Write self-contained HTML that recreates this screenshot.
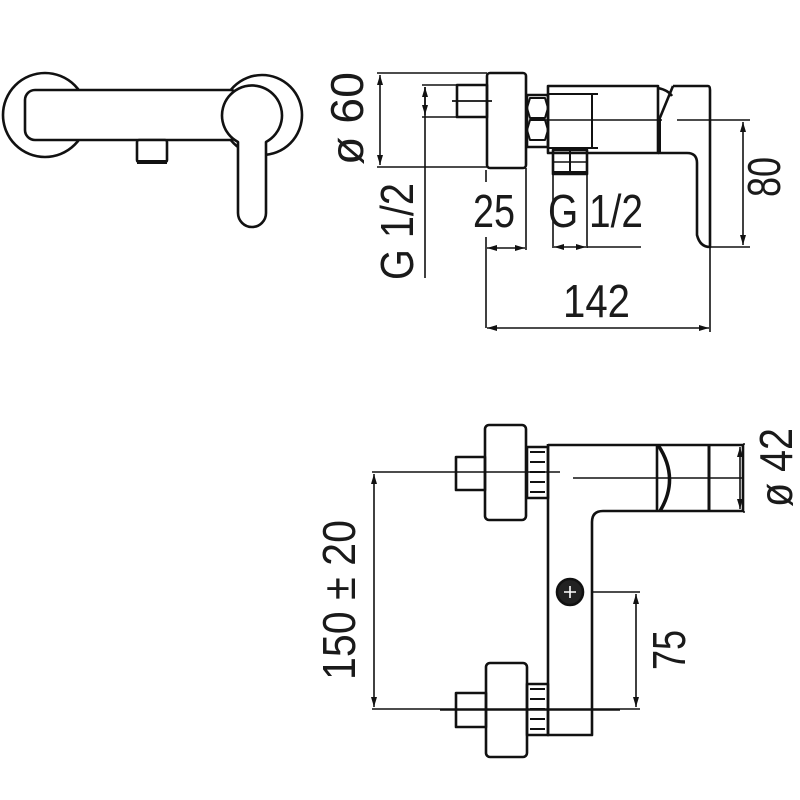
<!DOCTYPE html>
<html><head><meta charset="utf-8"><style>
html,body{margin:0;padding:0;background:#fff;}
svg{display:block}
text{font-family:"Liberation Sans",sans-serif;font-size:46px;fill:#1a1a1a}
</style></head><body>
<svg width="800" height="800" viewBox="0 0 800 800" xmlns="http://www.w3.org/2000/svg">
<defs>
<marker id="a" markerWidth="10" markerHeight="6" refX="10" refY="3" orient="auto-start-reverse" markerUnits="userSpaceOnUse">
<path d="M0 0 L10 3 L0 6 Z" fill="#111"/>
</marker>
</defs>
<g fill="none" stroke="#111" stroke-width="2.6" stroke-linejoin="round">
<!-- Top-left front view -->
<circle cx="45" cy="115" r="42"/>
<circle cx="262" cy="115" r="40"/>
<rect x="25" y="90" width="215" height="50" rx="10" fill="#fff"/>
<rect x="137" y="140" width="30" height="22" rx="2" fill="#fff"/>
<line x1="137" y1="162" x2="167" y2="162" stroke-width="4"/>
<path d="M238 142 A30 30 0 1 1 266 142 L266 213 A14 14 0 0 1 238 213 Z" fill="#fff"/>

<!-- Top-right side view -->
<rect x="487" y="73" width="39" height="95" rx="3" fill="#fff"/>
<rect x="457" y="85" width="30" height="32"/>
<line x1="452" y1="101" x2="492" y2="101" stroke-width="1.8"/>
<rect x="527" y="95" width="21" height="52"/>
<path d="M530 98 h15 l3 10 l-3 10 h-15 l-3 -10 z M530 120 h15 l3 10 l-3 10 h-15 l-3 -10 z" stroke-width="2"/>
<rect x="548" y="86" width="110" height="67"/>
<path d="M592 93 V148 M548 94 H598 M548 148 H598" stroke-width="2"/>
<rect x="553" y="150" width="34" height="24"/>
<line x1="553" y1="173" x2="587" y2="173" stroke-width="4"/>
<line x1="570" y1="150" x2="570" y2="175" stroke-width="2"/>
<line x1="553" y1="162" x2="587" y2="162" stroke-width="1.5"/>
<path d="M658 88 Q668 90 672 96"/>
<path d="M673 86 H708 Q710 86 710 90 V247 Q700 247 697 235 V163 Q697 153 687 153 H658"/>
<line x1="673" y1="86" x2="659" y2="120"/>
<line x1="659" y1="118" x2="659" y2="153" stroke-width="4"/>
<!-- dims top -->
<g stroke-width="1.6">
<path d="M377 73 H487 M377 167 H487"/>
<line x1="380" y1="75" x2="380" y2="165" marker-start="url(#a)" marker-end="url(#a)"/>
<path d="M422 85 H457 M422 117 H460 M425 87 V278"/>
<line x1="425" y1="87" x2="425" y2="115" marker-start="url(#a)" marker-end="url(#a)"/>
<path d="M543 120 H662 M677 120 H750 M710 247 H750"/>
<line x1="743" y1="122" x2="743" y2="245" marker-start="url(#a)" marker-end="url(#a)"/>
<path d="M486 170 V182 M486 237 V328 M526 168 V250"/>
<line x1="487" y1="248" x2="525" y2="248" marker-start="url(#a)" marker-end="url(#a)"/>
<path d="M553 175 V248 M587 175 V248 M587 247 H641"/>
<line x1="554" y1="247" x2="586" y2="247" marker-start="url(#a)" marker-end="url(#a)"/>
<path d="M710 247 V332"/>
<line x1="487" y1="328" x2="709" y2="328" marker-start="url(#a)" marker-end="url(#a)"/>
</g>

<!-- Bottom view -->
<rect x="485" y="425" width="41" height="95" rx="4" fill="#fff"/>
<rect x="456" y="457" width="29" height="33"/>
<rect x="527" y="447" width="21" height="51"/>
<path d="M530 452 h15 M530 462 h15 M530 472 h15 M530 482 h15 M530 492 h15" stroke-width="2"/>
<rect x="486" y="663" width="41" height="94" rx="4" fill="#fff"/>
<rect x="456" y="693" width="30" height="34"/>
<rect x="527" y="684" width="21" height="51"/>
<path d="M530 689 h15 M530 699 h15 M530 709 h15 M530 719 h15 M530 729 h15" stroke-width="2"/>
<path d="M548 444 V735 H592 V522 Q592 511 603 511 H743 V445 H548"/>
<line x1="657" y1="445" x2="657" y2="511"/>
<path d="M658 445 Q680 478 660 511" stroke-width="3.5"/>
<line x1="709" y1="445" x2="709" y2="511" stroke-width="3"/>
<circle cx="570" cy="592" r="13" fill="#222"/>
<path d="M564 592 H576 M570 586 V598" stroke="#fff" stroke-width="1.6"/>
<g stroke-width="1.6">
<path d="M372 472 H560 M573 478 H743 M372 709 H640 M440 710 H620"/>
<line x1="374" y1="474" x2="374" y2="707" marker-start="url(#a)" marker-end="url(#a)"/>
<path d="M593 592 H640"/>
<line x1="636" y1="594" x2="636" y2="707" marker-start="url(#a)" marker-end="url(#a)"/>
<path d="M743 444 H745 M743 512 H745"/>
<line x1="740" y1="447" x2="740" y2="509" marker-start="url(#a)" marker-end="url(#a)"/>
</g>
</g>
<!-- Texts -->
<text transform="translate(363,165) rotate(-90)" textLength="93" lengthAdjust="spacingAndGlyphs">ø 60</text>
<text transform="translate(413,280) rotate(-90)" textLength="97" lengthAdjust="spacingAndGlyphs">G 1/2</text>
<text x="473" y="227" textLength="42" lengthAdjust="spacingAndGlyphs">25</text>
<text x="548" y="227" textLength="95" lengthAdjust="spacingAndGlyphs">G 1/2</text>
<text x="563" y="317" textLength="67" lengthAdjust="spacingAndGlyphs">142</text>
<text transform="translate(780,197) rotate(-90)" textLength="40" lengthAdjust="spacingAndGlyphs">80</text>
<text transform="translate(355,680) rotate(-90)" textLength="160" lengthAdjust="spacingAndGlyphs">150 ± 20</text>
<text transform="translate(685,670) rotate(-90)" textLength="40" lengthAdjust="spacingAndGlyphs">75</text>
<text transform="translate(792,507) rotate(-90)" textLength="79" lengthAdjust="spacingAndGlyphs">ø 42</text>
</svg>
</body></html>
